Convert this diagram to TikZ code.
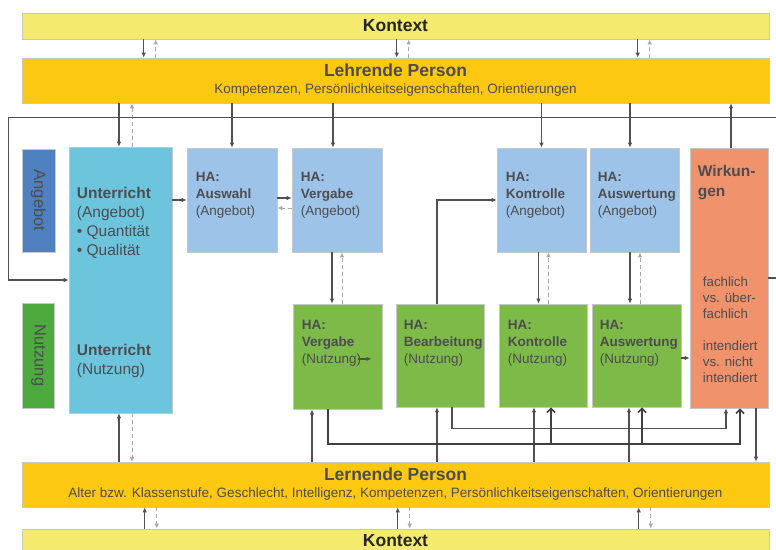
\documentclass[tikz,border=0pt]{standalone}
\usepackage{fontspec}
\setmainfont{Liberation Sans}
\usetikzlibrary{arrows.meta,positioning,calc}

\definecolor{kontextgelb}{HTML}{F4EB6E}
\definecolor{persongelb}{HTML}{FCC812}
\definecolor{angebotblau}{HTML}{4F81C0}
\definecolor{nutzunggruen}{HTML}{4CAA3E}
\definecolor{unterrichtblau}{HTML}{6CC5DC}
\definecolor{hablau}{HTML}{9DC3E8}
\definecolor{hagruen}{HTML}{7DBA48}
\definecolor{wirkorange}{HTML}{F0926B}
\definecolor{textgrau}{HTML}{4D4D4F}
\definecolor{liniengrau}{HTML}{505050}
\definecolor{strichgrau}{HTML}{A8A8A8}

\newcommand{\setfs}[2]{\fontsize{#1}{#2}\selectfont}

\begin{document}
\begin{tikzpicture}[x=1pt, y=-1pt]
  \tikzstyle{panel}=[draw=black!22, line width=0.6pt, inner sep=0pt]
  \tikzstyle{habox}=[panel, minimum width=89, minimum height=104]
  \tikzstyle{txt}=[inner sep=0pt, align=left, text=textgrau, anchor=north west]
  \tikzstyle{hatxt}=[txt, font=\setfs{13.5}{17}]
  \tikzstyle{arr}=[draw=liniengrau, line width=1.2pt, -{Latex[length=5pt,width=4.5pt]}]
  \tikzstyle{darr}=[draw=strichgrau, line width=1pt, dash pattern=on 4pt off 3pt, -{Latex[length=5pt,width=4.5pt]}]
  \tikzstyle{barr}=[draw=liniengrau!80!black, line width=1.7pt, -{Straight Barb[length=4pt,width=8pt]}]

  \path[use as bounding box, fill=white] (0,0) rectangle (776,549);

  % Rahmen
  \node[panel, fill=kontextgelb, minimum width=747, minimum height=26, text=black!85, font=\setfs{17.5}{20}\bfseries] (kontextoben) at (395.5,26) {Kontext};
  \node[panel, fill=persongelb, minimum width=747, minimum height=45, align=center, text=textgrau, font=\setfs{13.5}{17}] (lehrende) at (395.5,80.5)
    {{\setfs{17.5}{17}\bfseries Lehrende Person}\\Kompetenzen, Persönlichkeitseigenschaften, Orientierungen};
  \node[panel, fill=persongelb, minimum width=747, minimum height=45, align=center, text=textgrau, font=\setfs{13.5}{17}] (lernende) at (395.5,484.5)
    {{\setfs{17.5}{17}\bfseries Lernende Person}\\Alter bzw. Klassenstufe, Geschlecht, Intelligenz, Kompetenzen, Persönlichkeitseigenschaften, Orientierungen};
  \node[panel, fill=kontextgelb, minimum width=747, minimum height=23, text=black!85, font=\setfs{17.5}{20}\bfseries] (kontextunten) at (395.5,540.5) {Kontext};

  % Seitenbeschriftung
  \node[panel, fill=angebotblau, minimum width=103, minimum height=33, rotate=-90, text=textgrau, font=\setfs{16.5}{18}] (angebot) at (38.5,200.5) {Angebot};
  \node[panel, fill=nutzunggruen, minimum width=105, minimum height=32, rotate=-90, text=textgrau, font=\setfs{16.5}{18}] (nutzung) at (38.5,355.5) {Nutzung};

  % Unterricht
  \node[panel, fill=unterrichtblau, minimum width=103, minimum height=266] (unterricht) at (120.5,280) {};
  \node[txt, font=\setfs{15.5}{19}, below right=40pt and 8pt of unterricht.north west] (unterrichtA)
    {\textbf{Unterricht}\\(Angebot)\\\textbullet{} Quantität\\\textbullet{} Qualität};
  \node[txt, font=\setfs{15.5}{19}, below right=197pt and 8pt of unterricht.north west] (unterrichtN)
    {\textbf{Unterricht}\\(Nutzung)};

  % Hausaufgaben: Angebot
  \node[habox, fill=hablau, minimum width=90] (auswahlA) at (232,200) {};
  \node[habox, fill=hablau, minimum width=90] (vergabeA) at (337,200) {};
  \node[habox, fill=hablau] (kontrolleA) at (541.5,200) {};
  \node[habox, fill=hablau] (auswertA) at (634.5,200) {};
  \node[hatxt, below right=24pt and 9pt of auswahlA.north west] (auswahlAtxt) {\textbf{HA:}\\\textbf{Auswahl}\\(Angebot)};
  \node[hatxt, below right=24pt and 9pt of vergabeA.north west] (vergabeAtxt) {\textbf{HA:}\\\textbf{Vergabe}\\(Angebot)};
  \node[hatxt, below right=24pt and 9pt of kontrolleA.north west] (kontrolleAtxt) {\textbf{HA:}\\\textbf{Kontrolle}\\(Angebot)};
  \node[hatxt, below right=24pt and 8pt of auswertA.north west] (auswertAtxt) {\textbf{HA:}\\\textbf{Auswertung}\\(Angebot)};

  % Hausaufgaben: Nutzung
  \node[habox, fill=hagruen, minimum height=105] (vergabeN) at (337.5,356.5) {};
  \node[habox, fill=hagruen, minimum width=88, minimum height=103] (bearbN) at (440,355.5) {};
  \node[habox, fill=hagruen, minimum width=88, minimum height=103] (kontrolleN) at (543,355.5) {};
  \node[habox, fill=hagruen, minimum height=103] (auswertN) at (636.5,355.5) {};
  \node[hatxt, below right=16pt and 9pt of vergabeN.north west] (vergabeNtxt) {\textbf{HA:}\\\textbf{Vergabe}\\(Nutzung)};
  \node[hatxt, below right=16pt and 8pt of bearbN.north west] (bearbNtxt) {\textbf{HA:}\\\textbf{Bearbeitung}\\(Nutzung)};
  \node[hatxt, below right=16pt and 9pt of kontrolleN.north west] (kontrolleNtxt) {\textbf{HA:}\\\textbf{Kontrolle}\\(Nutzung)};
  \node[hatxt, below right=16pt and 8pt of auswertN.north west] (auswertNtxt) {\textbf{HA:}\\\textbf{Auswertung}\\(Nutzung)};

  % Wirkungen
  \node[panel, fill=wirkorange, minimum width=78, minimum height=260] (wirkungen) at (729,278) {};
  \node[txt, font=\setfs{15.5}{20}\bfseries, below right=17.5pt and 8pt of wirkungen.north west] (wirkungentitel) {Wirkun-\\gen};
  \node[txt, font=\setfs{13.3}{16}, below right=129pt and 13pt of wirkungen.north west] (wirkungentxt)
    {fachlich\\vs. über-\\fachlich\\[16pt]intendiert\\vs. nicht\\intendiert};

  % Kontext <-> Personen
  \foreach \dx in {122,375,616} {
    \draw[arr] ([xshift=\dx]kontextoben.south west) -- ([xshift=\dx]lehrende.north west);
    \draw[darr] ([xshift=\dx+12]lehrende.north west) -- ([xshift=\dx+12]kontextoben.south west);
    \draw[arr] ([xshift=\dx+1]kontextunten.north west) -- ([xshift=\dx+1]lernende.south west);
    \draw[darr] ([xshift=\dx+13]lernende.south west) -- ([xshift=\dx+13]kontextunten.north west);
  }

  % Lehrende Person -> Kaesten
  \draw[arr] ([xshift=-1.5pt]unterricht.north |- lehrende.south) -- ([xshift=-1.5pt]unterricht.north);
  \draw[darr] ([xshift=11.5pt]unterricht.north) -- ([xshift=11.5pt]unterricht.north |- lehrende.south);
  \draw[arr] (auswahlA.north |- lehrende.south) -- (auswahlA.north);
  \draw[arr] ([xshift=-4pt]vergabeA.north |- lehrende.south) -- ([xshift=-4pt]vergabeA.north);
  \draw[arr] (kontrolleA.north |- lehrende.south) -- (kontrolleA.north);
  \draw[arr] ([xshift=-4.5pt]auswertA.north |- lehrende.south) -- ([xshift=-4.5pt]auswertA.north);
  \draw[arr] ([xshift=2pt]wirkungen.north) -- ([xshift=2pt]wirkungen.north |- lehrende.south);

  % Rueckkopplung
  \draw[arr] (wirkungen.east) -| ($(lehrende.south east)+(8,14)$) -| ($(unterricht.west)+(-60,0)$) -- (unterricht.west);

  % Angebot
  \draw[arr] (auswahlA.west -| unterricht.east) -- (auswahlA.west);
  \draw[arr] ([yshift=2pt]auswahlA.east) -- ([yshift=2pt]auswahlA.east -| vergabeA.west);
  \draw[darr] ([yshift=-8pt]vergabeA.west) -- ([yshift=-8pt]vergabeA.west -| auswahlA.east);
  \foreach \a/\n/\dx in {vergabeA/vergabeN/-5, kontrolleA/kontrolleN/-3, auswertA/auswertN/-4.5} {
    \draw[arr] ([xshift=\dx]\a.south) -- ([xshift=\dx]\a.south |- \n.north);
    \draw[darr] ([xshift=\dx+10]\a.south |- \n.north) -- ([xshift=\dx+10]\a.south);
  }

  % Nutzung
  \draw[arr] ([xshift=-3pt]bearbN.north) |- (kontrolleA.west);
  \draw[arr] ([yshift=-2.5pt]auswertN.east) -- ([yshift=-2.5pt]auswertN.east -| wirkungen.west);
  \draw[arr] ([xshift=-3pt, yshift=-16pt]vergabeNtxt.east) -- ++(13,0);

  % Lernende Person -> Kaesten
  \draw[arr] ([xshift=-1.5pt]unterricht.south |- lernende.north) -- ([xshift=-1.5pt]unterricht.south);
  \draw[darr] ([xshift=11.5pt]unterricht.south) -- ([xshift=11.5pt]unterricht.south |- lernende.north);
  \foreach \n/\dx in {vergabeN/-25.5, bearbN/-3, kontrolleN/-9, auswertN/-7.5} {
    \draw[arr] ([xshift=\dx]\n.south |- lernende.north) -- ([xshift=\dx]\n.south);
  }
  \draw[arr] ([xshift=27pt]wirkungen.south) -- ([xshift=27pt]wirkungen.south |- lernende.north);

  % Sammelleitungen zu den Wirkungen
  \coordinate (busoben) at ($(lernende.north)+(0,-33)$);
  \coordinate (busunten) at ($(lernende.north)+(0,-18)$);
  \draw[arr] ([xshift=12pt]bearbN.south) -- ([xshift=12pt]bearbN.south |- busoben) -| ([xshift=-3pt]wirkungen.south);
  \draw[barr] ([xshift=-9.5pt]vergabeN.south) -- ([xshift=-9.5pt]vergabeN.south |- busunten) -| ([xshift=11pt]wirkungen.south);
  \draw[barr] ([xshift=8pt]kontrolleN.south |- busunten) -- ([xshift=8pt]kontrolleN.south);
  \draw[barr] ([xshift=5.5pt]auswertN.south |- busunten) -- ([xshift=5.5pt]auswertN.south);
\end{tikzpicture}
\end{document}
